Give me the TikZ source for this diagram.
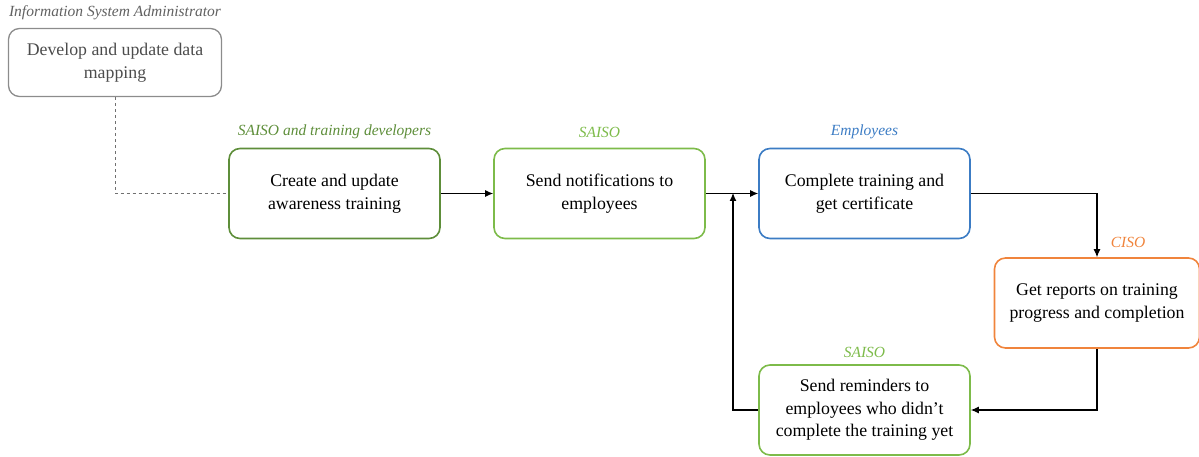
\documentclass[tikz,border=0pt]{standalone}
\usepackage{fontspec}
\setmainfont{Liberation Serif}
\usetikzlibrary{arrows.meta}
\definecolor{admgray}{HTML}{8C8C8C}
\definecolor{darkgreen}{HTML}{5E8E3A}
\definecolor{lightgreen}{HTML}{7DBB4A}
\definecolor{empblue}{HTML}{3C7CC4}
\definecolor{cisoorange}{HTML}{F0843C}
\tikzset{
  task/.style={draw, rounded corners=11pt, line width=1.6pt, minimum width=211pt,
    minimum height=90pt, align=center,
    font=\fontsize{17.8}{22.5}\selectfont},
  role/.style={font=\fontsize{15.5}{18}\selectfont\itshape},
  flow/.style={draw, line width=1.1pt, -{Latex[length=8pt,width=7pt]}}
}
\begin{document}
\begin{tikzpicture}[x=1pt,y=-1pt]
\useasboundingbox (0,0) rectangle (1199,457);
\node[task, admgray, line width=1.3pt, minimum width=213pt, minimum height=68pt, text=black!70] (map) at (115,62.5) {Develop and update data\\mapping};
\node[role, text=black!62] (admin) at (115,13) {Information System Administrator};
\node[task, darkgreen, text=black] (create) at (334.5,193.5) {Create and update\\awareness training};
\node[role, text=darkgreen] (devs) at (334.5,132) {SAISO and training developers};
\node[task, lightgreen, text=black] (notify) at (599.5,193.5) {Send notifications to\\employees};
\node[role, text=lightgreen] (saiso1) at (599.5,132) {SAISO};
\node[task, empblue, text=black] (complete) at (864.5,193.5) {Complete training and\\get certificate};
\node[role, text=empblue] (emp) at (864.5,132) {Employees};
\node[task, cisoorange, text=black, minimum width=205pt] (reports) at (1097,303) {Get reports on training\\progress and completion};
\node[role, text=cisoorange] (ciso) at (1128,242) {CISO};
\node[task, lightgreen, text=black] (remind) at (864.5,410) {Send reminders to\\employees who didn't\\complete the training yet};
\node[role, text=lightgreen] (saiso2) at (864.5,352) {SAISO};
\coordinate (join) at (733,193);
\path[draw, admgray!80!black, line width=1pt, dashed] (map) |- (create);
\path[flow] (create) -- (notify);
\path[flow] (notify) -- (complete);
\path[flow] (complete) -| (reports);
\path[flow] (reports) |- (remind);
\path[flow] (remind) -| (join);
\end{tikzpicture}
\end{document}
